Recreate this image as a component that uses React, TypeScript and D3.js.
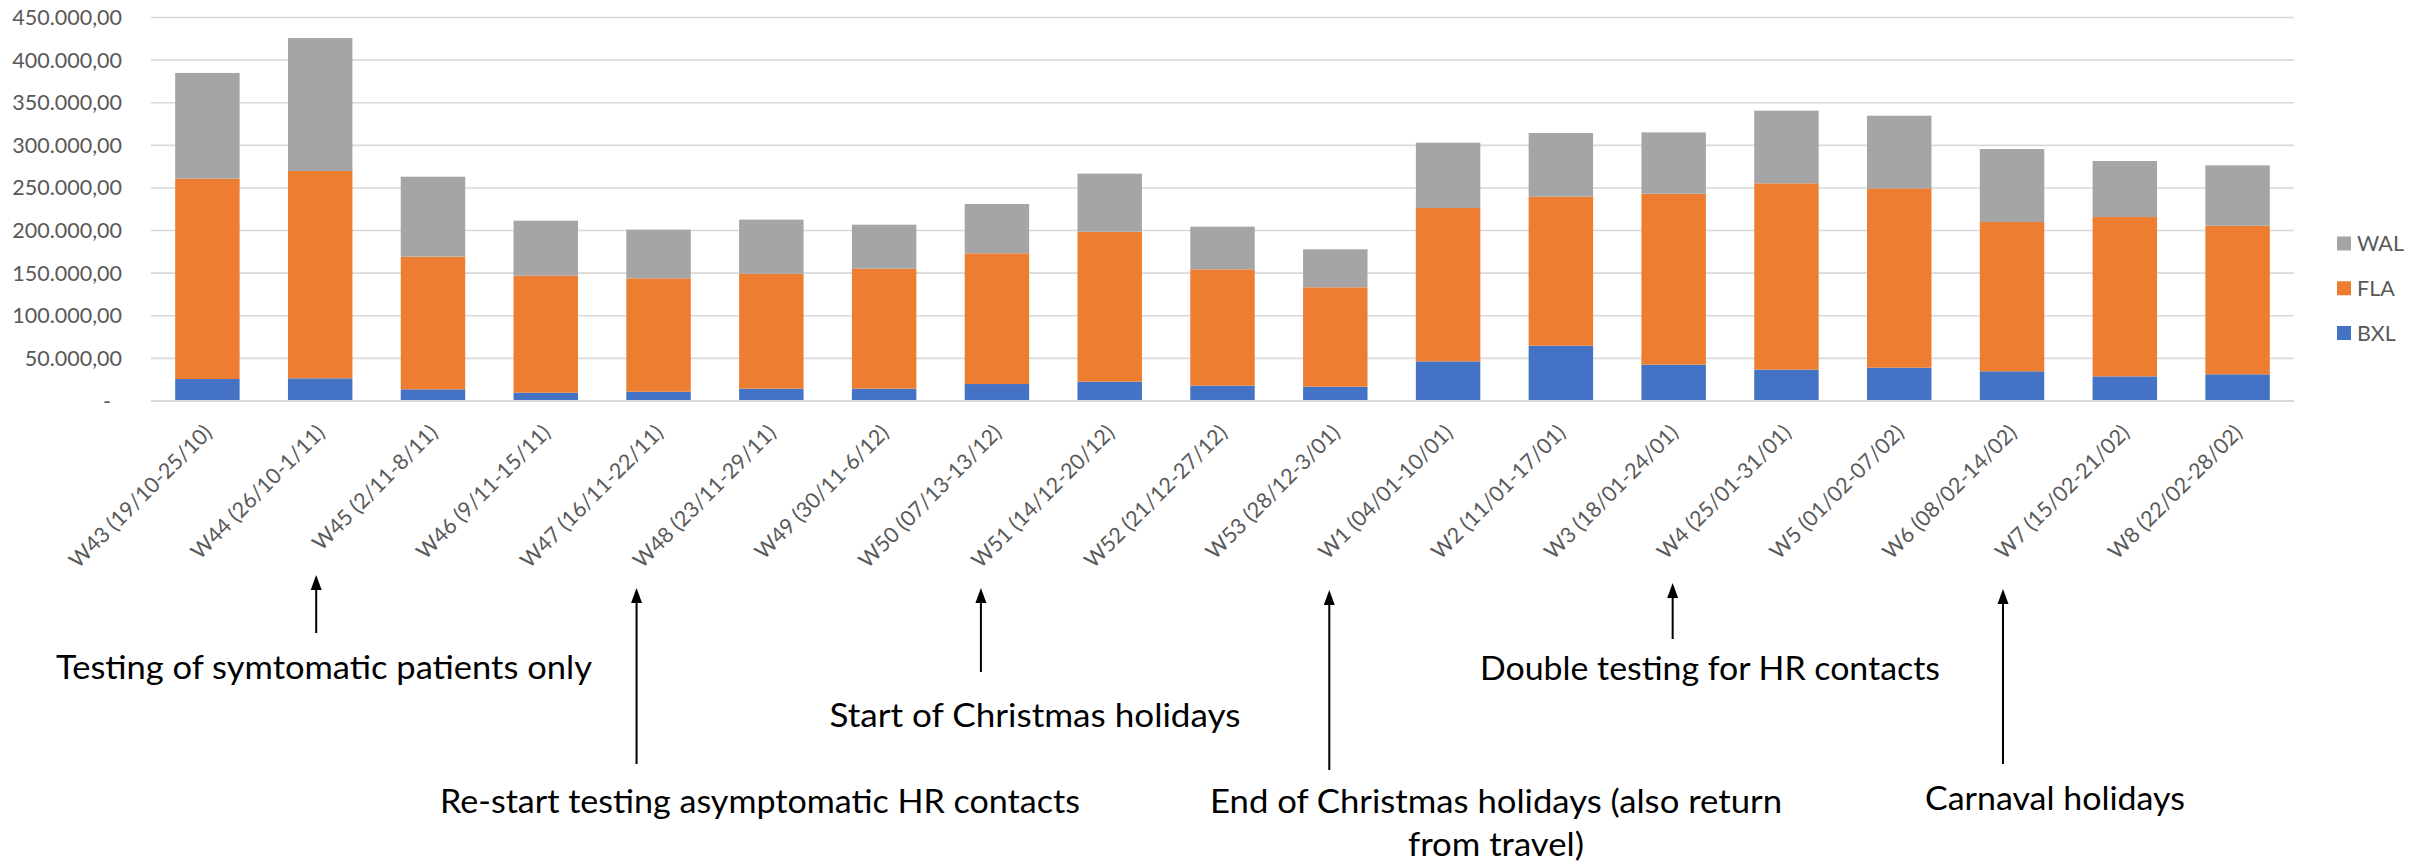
import React from "react";
import * as d3 from "d3";

// ---- data -------------------------------------------------------------
const weeks = [
  "W43 (19/10-25/10)",
  "W44 (26/10-1/11)",
  "W45 (2/11-8/11)",
  "W46 (9/11-15/11)",
  "W47 (16/11-22/11)",
  "W48 (23/11-29/11)",
  "W49 (30/11-6/12)",
  "W50 (07/13-13/12)",
  "W51 (14/12-20/12)",
  "W52 (21/12-27/12)",
  "W53 (28/12-3/01)",
  "W1 (04/01-10/01)",
  "W2 (11/01-17/01)",
  "W3 (18/01-24/01)",
  "W4 (25/01-31/01)",
  "W5 (01/02-07/02)",
  "W6 (08/02-14/02)",
  "W7 (15/02-21/02)",
  "W8 (22/02-28/02)",
];

const BXL = [25800, 26600, 13700, 9800, 10900, 14500, 14500, 19900, 22700, 18000, 16800, 46500, 64900, 42600, 36800, 39100, 34800, 28900, 31300];
const FLA = [235100, 243300, 155700, 137300, 133000, 134900, 140800, 153400, 176000, 136500, 116600, 180000, 174900, 200700, 218600, 210400, 175200, 187000, 174400];
const WAL = [124000, 156000, 93800, 64500, 57100, 63400, 51600, 57900, 68100, 50100, 44600, 76600, 74700, 71900, 85300, 85300, 85700, 65700, 70800];

const seriesNames = ["BXL", "FLA", "WAL"];
const yTickValues = [0, 50000, 100000, 150000, 200000, 250000, 300000, 350000, 400000, 450000];

const eventWeeks = ["W44 (26/10-1/11)", "W47 (16/11-22/11)", "W50 (07/13-13/12)", "W53 (28/12-3/01)", "W3 (18/01-24/01)", "W6 (08/02-14/02)"];
const eventTexts = [
  ["Testing of symtomatic patients only"],
  ["Re-start testing asymptomatic HR contacts"],
  ["Start of Christmas holidays"],
  ["End of Christmas holidays (also return", "from travel)"],
  ["Double testing for HR contacts"],
  ["Carnaval holidays"],
];

// ---- layout -----------------------------------------------------------
const W = 2428;
const H = 865;
const colors: Record<string, string> = { BXL: "#4472C4", FLA: "#ED7D31", WAL: "#A5A5A5" };
const axisColor = "#595959";
const gridColor = "#D9D9D9";
const labelFont = "Lato, 'Open Sans', sans-serif";

// arrow/label placement for each event annotation
const eventLayout = [
  { shift: -4, tip: 575, tail: 633, cx: 324, base: [679], len: [536] },
  { shift: -22, tip: 588, tail: 764, cx: 760, base: [813], len: [640] },
  { shift: -16, tip: 588, tail: 672, cx: 1035, base: [727], len: [411] },
  { shift: -6, tip: 590, tail: 770, cx: 1496, base: [813, 856], len: [572, 176] },
  { shift: -1, tip: 583, tail: 639, cx: 1710, base: [680], len: [460] },
  { shift: -9, tip: 589, tail: 764, cx: 2055, base: [810], len: [260] },
];

const numFmt = d3
  .formatLocale({ decimal: ",", thousands: ".", grouping: [3], currency: ["", ""] })
  .format(",.2f");

export default function App() {
  const x = d3.scaleBand<string>().domain(weeks).range([151, 2294]).paddingInner(0.4286).paddingOuter(0.2143);
  const y = d3.scaleLinear().domain([0, 450000]).range([401, 17.5]);

  const table = weeks.map((w, i) => ({ week: w, BXL: BXL[i], FLA: FLA[i], WAL: WAL[i] }));
  const stacked = d3.stack<any>().keys(seriesNames)(table);

  const legendOrder = ["WAL", "FLA", "BXL"];

  return (
    <svg
      width={W}
      height={H}
      viewBox={`0 0 ${W} ${H}`}
      style={{ position: "absolute", left: 0, top: 0, background: "#fff", display: "block" }}
    >
      <rect x={0} y={0} width={W} height={H} fill="#fff" />

      {/* gridlines */}
      {yTickValues.map((t) => (
        <line key={"g" + t} x1={151} x2={2294} y1={y(t)} y2={y(t)} stroke={gridColor} strokeWidth={1.6} />
      ))}

      {/* y tick labels */}
      {yTickValues.map((t) => (
        <text
          key={"yt" + t}
          x={t === 0 ? 111 : 122}
          y={y(t)}
          dy="0.35em"
          textAnchor="end"
          fontFamily={labelFont}
          fontSize={21.5}
          fill={axisColor}
        >
          {t === 0 ? "-" : numFmt(t)}
        </text>
      ))}

      {/* stacked bars */}
      {stacked.map((s) => (
        <g key={s.key} fill={colors[s.key]}>
          {s.map((d: any) => (
            <rect
              key={d.data.week}
              x={x(d.data.week)}
              y={y(d[1])}
              width={x.bandwidth()}
              height={y(d[0]) - y(d[1])}
            />
          ))}
        </g>
      ))}

      {/* x axis line */}
      <line x1={151} x2={2294} y1={y(0)} y2={y(0)} stroke={gridColor} strokeWidth={2} />

      {/* x tick labels */}
      {weeks.map((w) => {
        const cx = (x(w) as number) + x.bandwidth() / 2 + 6;
        const cy = y(0) + 33;
        return (
          <text
            key={"xl" + w}
            transform={`translate(${cx},${cy}) rotate(-45)`}
            textAnchor="end"
            fontFamily={labelFont}
            fontSize={21.5}
            fill={axisColor}
          >
            {w}
          </text>
        );
      })}

      {/* legend */}
      {legendOrder.map((k, i) => {
        const cy = 243.5 + i * 44.75;
        return (
          <g key={"lg" + k}>
            <rect x={2337} y={cy - 7} width={14} height={14} fill={colors[k]} />
            <text x={2357} y={cy} dy="0.36em" fontFamily={labelFont} fontSize={21.5} fill={axisColor}>
              {k}
            </text>
          </g>
        );
      })}

      {/* event annotations */}
      {eventWeeks.map((w, i) => {
        const L = eventLayout[i];
        const ax = (x(w) as number) + x.bandwidth() / 2 + L.shift;
        const headH = 15;
        const headW = 11;
        return (
          <g key={"ev" + i}>
            <line x1={ax} x2={ax} y1={L.tail} y2={L.tip + headH - 1} stroke="#000" strokeWidth={2} />
            <polygon
              points={`${ax},${L.tip} ${ax - headW / 2},${L.tip + headH} ${ax + headW / 2},${L.tip + headH}`}
              fill="#000"
            />
            {eventTexts[i].map((line, j) => (
              <text
                key={j}
                x={L.cx}
                y={L.base[j]}
                textAnchor="middle"
                fontFamily={labelFont}
                fontSize={33}
                fill="#000"
                textLength={L.len[j]}
                lengthAdjust="spacingAndGlyphs"
              >
                {line}
              </text>
            ))}
          </g>
        );
      })}
    </svg>
  );
}
